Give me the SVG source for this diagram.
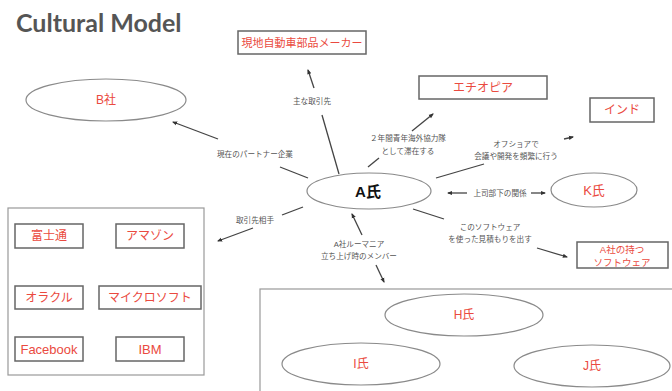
<svg xmlns="http://www.w3.org/2000/svg" width="672" height="391" viewBox="0 0 672 391">
<style>
.title{font-family:Lato,"Liberation Sans",sans-serif;font-weight:bold;font-size:25px;fill:#555}
.ell{fill:#fff;stroke:#8a8a8a;stroke-width:1.2}
.box{fill:#fff;stroke:#666;stroke-width:1.5}
.frame{fill:none;stroke:#999;stroke-width:1.2}
.red{font-family:"Liberation Sans","Noto Sans CJK JP",sans-serif;font-size:11px;fill:#ea4a40;text-anchor:middle;dominant-baseline:central}
.lbl{font-family:"Liberation Sans","Noto Sans CJK JP",sans-serif;font-size:7.6px;fill:#555;text-anchor:middle;dominant-baseline:central}
.ln{stroke:#444;stroke-width:1.3;fill:none}
.arr{marker-end:url(#ah)}
</style>
<defs>
<marker id="ah" viewBox="0 0 10 10" refX="8" refY="5" markerWidth="4" markerHeight="4" orient="auto-start-reverse" markerUnits="strokeWidth">
<path d="M0,1 L10,5 L0,9 z" fill="#333"/>
</marker>
</defs>
<rect width="672" height="391" fill="#fff"/>
<text class="title" x="16" y="32">Cultural Model</text>

<g id="frame-left"><rect class="frame" x="8" y="208" width="196" height="167"/></g>
<g id="frame-bottom"><rect class="frame" x="260" y="289" width="420" height="120"/></g>

<g id="connectors">
<line class="ln" x1="339" y1="174" x2="322" y2="115"/>
<line class="ln arr" x1="314" y1="88" x2="308" y2="70"/>
<text class="lbl" x="312" y="101">主な取引先</text>
<line class="ln" x1="308" y1="178" x2="280" y2="167"/>
<line class="ln arr" x1="218" y1="139" x2="173" y2="122"/>
<text class="lbl" x="255" y="154">現在のパートナー企業</text>
<line class="ln" x1="303" y1="207" x2="282" y2="215"/>
<line class="ln arr" x1="253" y1="228" x2="218" y2="241"/>
<text class="lbl" x="255" y="220">取引先相手</text>
<line class="ln" x1="368" y1="167" x2="379" y2="158"/>
<line class="ln arr" x1="412" y1="131" x2="433" y2="114"/>
<text class="lbl" x="408" y="138">２年間青年海外協力隊</text>
<text class="lbl" x="408" y="151">として滞在する</text>
<line class="ln" x1="436" y1="178" x2="484" y2="164"/>
<line class="ln arr" x1="564" y1="139" x2="573" y2="137"/>
<text class="lbl" x="516" y="144">オフショアで</text>
<text class="lbl" x="516" y="156">会議や開発を頻繁に行う</text>
<line class="ln arr" x1="467" y1="193" x2="448" y2="193"/>
<line class="ln arr" x1="531" y1="193" x2="545" y2="193"/>
<text class="lbl" x="500" y="193">上司部下の関係</text>
<line class="ln" x1="413" y1="209" x2="444" y2="219"/>
<line class="ln arr" x1="537" y1="248" x2="567" y2="257"/>
<text class="lbl" x="490" y="227">このソフトウェア</text>
<text class="lbl" x="490" y="239">を使った見積もりを出す</text>
<line class="ln arr" x1="362" y1="235" x2="352" y2="214"/>
<line class="ln arr" x1="376" y1="265" x2="384" y2="282"/>
<text class="lbl" x="359" y="244">A社ルーマニア</text>
<text class="lbl" x="359" y="256">立ち上げ時のメンバー</text>
</g>

<g id="maker"><rect class="box" x="238" y="31" width="128" height="23"/><text class="red" x="302" y="43">現地自動車部品メーカー</text></g>
<g id="ethiopia"><rect class="box" x="419" y="76" width="128" height="23"/><text class="red" x="483" y="88" style="font-size:12px">エチオピア</text></g>
<g id="india"><rect class="box" x="590" y="98" width="64" height="24"/><text class="red" x="622" y="110" style="font-size:12px">インド</text></g>
<g id="b"><ellipse class="ell" cx="106" cy="100" rx="80" ry="21"/><text class="red" x="106" y="100" style="font-size:12px">B社</text></g>
<g id="a"><ellipse class="ell" cx="369" cy="191" rx="62" ry="18"/><text x="368" y="191" font-family="'Liberation Sans','Noto Sans CJK JP',sans-serif" font-weight="bold" font-size="15" fill="#111" text-anchor="middle" dominant-baseline="central">A氏</text></g>
<g id="k"><ellipse class="ell" cx="594" cy="190" rx="43" ry="17"/><text class="red" x="594" y="190" style="font-size:13px">K氏</text></g>
<g id="software"><rect class="box" x="577" y="242" width="91" height="26"/><text class="red" x="622" y="249" style="font-size:9.5px">A社の持つ</text><text class="red" x="622" y="262" style="font-size:9.5px">ソフトウェア</text></g>

<g id="fujitsu"><rect class="box" x="15" y="224" width="68" height="24"/><text class="red" x="49" y="236" style="font-size:12px">富士通</text></g>
<g id="amazon"><rect class="box" x="116" y="224" width="68" height="24"/><text class="red" x="150" y="236" style="font-size:12px">アマゾン</text></g>
<g id="oracle"><rect class="box" x="15" y="286" width="68" height="23"/><text class="red" x="49" y="297.5" style="font-size:12px">オラクル</text></g>
<g id="microsoft"><rect class="box" x="99" y="286" width="102" height="23"/><text class="red" x="150" y="297.5" style="font-size:12px">マイクロソフト</text></g>
<g id="facebook"><rect class="box" x="15" y="337" width="68" height="24"/><text class="red" x="49" y="349" style="font-size:13px">Facebook</text></g>
<g id="ibm"><rect class="box" x="116" y="337" width="68" height="24"/><text class="red" x="150" y="349" style="font-size:13px">IBM</text></g>

<g id="h"><ellipse class="ell" cx="464" cy="315" rx="79" ry="21"/><text class="red" x="464" y="315" style="font-size:12px">H氏</text></g>
<g id="i"><ellipse class="ell" cx="361" cy="364" rx="79" ry="21"/><text class="red" x="361" y="364" style="font-size:12px">I氏</text></g>
<g id="j"><ellipse class="ell" cx="592" cy="366" rx="78" ry="21"/><text class="red" x="592" y="366" style="font-size:12px">J氏</text></g>
</svg>
